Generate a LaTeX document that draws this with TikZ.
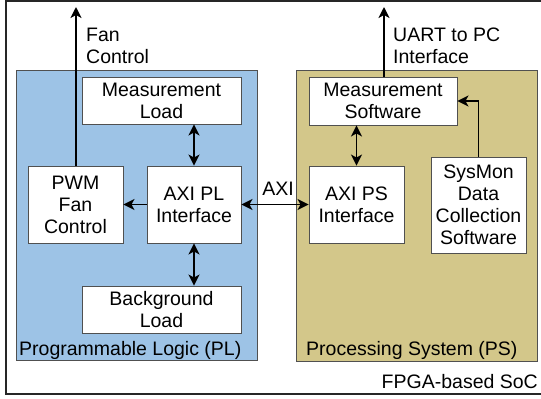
\documentclass[tikz,border=0pt]{standalone}
\usepackage{fontspec}
\setmainfont{Liberation Sans}
\usetikzlibrary{arrows.meta}
\definecolor{plblue}{RGB}{157,195,230}
\definecolor{pskhaki}{RGB}{211,199,138}
\definecolor{edgegray}{RGB}{80,80,80}
\begin{document}
\begin{tikzpicture}[x=1pt,y=-1pt,
  font=\fontsize{19.5}{22}\selectfont,
  blk/.style={draw=edgegray, line width=0.9pt, fill=white, align=center, inner sep=0pt},
  region/.style={draw=edgegray, line width=0.9pt},
  conn/.style={line width=1.8pt, -{Stealth[length=11pt,width=11pt,inset=3pt]}},
  biconn/.style={line width=1.8pt, {Stealth[length=11pt,width=11pt,inset=3pt]}-{Stealth[length=11pt,width=11pt,inset=3pt]}}]
\useasboundingbox (0,0) rectangle (541,399);
\draw[line width=1.3pt, draw=black!85] (6,1) rectangle (548,394);
\fill[plblue] (16,70) rectangle (257,360);
\draw[region] (16,70) rectangle (257,360);
\fill[pskhaki] (296,70) rectangle (537,361);
\draw[region] (296,70) rectangle (537,361);

\node[blk, minimum width=159pt, minimum height=47pt] (mload) at (161.5,100.5) {Measurement\\Load};
\node[blk, minimum width=95pt, minimum height=77pt] (pwm) at (75.5,204.5) {PWM\\Fan\\Control};
\node[blk, minimum width=94pt, minimum height=77pt] (axipl) at (194,204.5) {AXI PL\\Interface};
\node[blk, minimum width=159pt, minimum height=47pt] (bload) at (161.5,309.5) {Background\\Load};
\node[blk, minimum width=148pt, minimum height=48pt] (msw) at (383,101) {Measurement\\Software};
\node[blk, minimum width=95pt, minimum height=77pt] (axips) at (356.5,204.5) {AXI PS\\Interface};
\node[blk, minimum width=95pt, minimum height=96pt] (sysmon) at (478.5,205) {SysMon\\Data\\Collection\\Software};

\node[anchor=base west, inner sep=0pt] (pllabel) at (19,355) {Programmable Logic (PL)};
\node[anchor=base west, inner sep=0pt] (pslabel) at (306,355) {Processing System (PS)};
\node[anchor=base east, inner sep=0pt] (soclabel) at (538,388) {FPGA-based SoC};

\coordinate (fanend) at (76,7);
\coordinate (uartend) at (384,7);
\draw[conn] (pwm.north -| fanend) -- (fanend);
\node[anchor=base west, inner sep=0pt, align=left] (fanlabel) at (86,63) {Fan\\Control};
\draw[conn] (msw.north -| uartend) -- (uartend);
\node[anchor=base west, inner sep=0pt, align=left] (uartlabel) at (393,63) {UART to PC\\Interface};

\draw[biconn] (mload.south -| axipl) -- (axipl.north);
\draw[biconn] (axipl.south) -- (bload.north -| axipl);
\draw[conn] (axipl.west) -- (pwm.east);
\draw[biconn] (axipl.east) -- (axips.west);
\node[anchor=base, inner sep=0pt] (axilabel) at (278,195) {AXI};
\draw[biconn] (msw.south -| axips) -- (axips.north);
\draw[conn] (sysmon.north) |- (msw.east |- 0,101);
\end{tikzpicture}
\end{document}
